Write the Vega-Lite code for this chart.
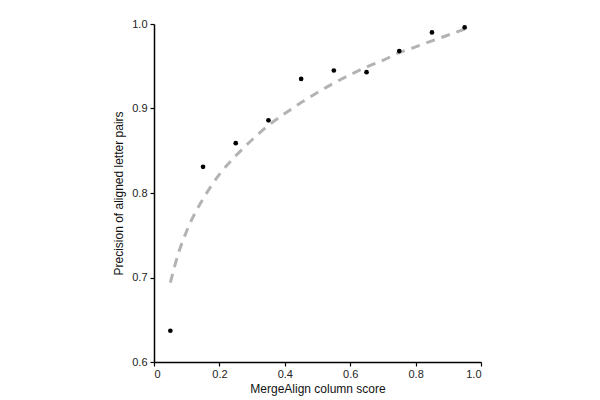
{
  "$schema": "https://vega.github.io/schema/vega-lite/v6.json",
  "autosize": {"type": "none"},
  "padding": {"left": 154, "top": 24, "right": 119, "bottom": 38},
  "width": 327,
  "height": 338,
  "background": "white",
  "config": {
    "view": {"stroke": null},
    "axis": {
      "labelFont": "Liberation Sans",
      "titleFont": "Liberation Sans",
      "labelFontSize": 11,
      "titleFontSize": 12,
      "titleFontWeight": "normal",
      "labelColor": "#222",
      "titleColor": "#111",
      "domainColor": "#000",
      "domainWidth": 1.5,
      "tickColor": "#000",
      "tickWidth": 1.2,
      "tickSize": 4,
      "grid": false
    }
  },
  "datasets": {
    "points": [
      {"score": 0.05, "precision": 0.637},
      {"score": 0.15, "precision": 0.831},
      {"score": 0.25, "precision": 0.859},
      {"score": 0.35, "precision": 0.886},
      {"score": 0.45, "precision": 0.935},
      {"score": 0.55, "precision": 0.945},
      {"score": 0.65, "precision": 0.943},
      {"score": 0.75, "precision": 0.968},
      {"score": 0.85, "precision": 0.990},
      {"score": 0.95, "precision": 0.996}
    ],
    "fit": [
      {"score": 0.05, "precision": 0.694},
      {"score": 0.075, "precision": 0.729},
      {"score": 0.1, "precision": 0.755},
      {"score": 0.125, "precision": 0.776},
      {"score": 0.15, "precision": 0.793},
      {"score": 0.2, "precision": 0.822},
      {"score": 0.25, "precision": 0.844},
      {"score": 0.3, "precision": 0.863},
      {"score": 0.35, "precision": 0.880},
      {"score": 0.4, "precision": 0.894},
      {"score": 0.45, "precision": 0.907},
      {"score": 0.5, "precision": 0.919},
      {"score": 0.55, "precision": 0.930},
      {"score": 0.6, "precision": 0.940},
      {"score": 0.65, "precision": 0.949},
      {"score": 0.7, "precision": 0.957},
      {"score": 0.75, "precision": 0.966},
      {"score": 0.8, "precision": 0.973},
      {"score": 0.85, "precision": 0.980},
      {"score": 0.9, "precision": 0.987},
      {"score": 0.95, "precision": 0.994}
    ]
  },
  "layer": [
    {
      "data": {"name": "fit"},
      "mark": {"type": "line", "color": "#b3b3b3", "strokeWidth": 3, "strokeDash": [9, 7], "interpolate": "monotone"},
      "encoding": {
        "x": {"field": "score", "type": "quantitative", "scale": {"domain": [0, 1], "nice": false},
          "axis": {"values": [0, 0.2, 0.4, 0.6, 0.8, 1.0], "labelExpr": "datum.value == 0 ? '0' : format(datum.value, '.1f')", "title": "MergeAlign column score", "labelPadding": 2, "titlePadding": 4}},
        "y": {"field": "precision", "type": "quantitative", "scale": {"domain": [0.6, 1.0], "nice": false, "zero": false},
          "axis": {"values": [0.6, 0.7, 0.8, 0.9, 1.0], "format": ".1f", "title": "Precision of aligned letter pairs", "labelPadding": 3, "titlePadding": 6}}
      }
    },
    {
      "data": {"name": "points"},
      "mark": {"type": "circle", "color": "#000", "opacity": 1, "size": 22},
      "encoding": {
        "x": {"field": "score", "type": "quantitative"},
        "y": {"field": "precision", "type": "quantitative"}
      }
    }
  ]
}
